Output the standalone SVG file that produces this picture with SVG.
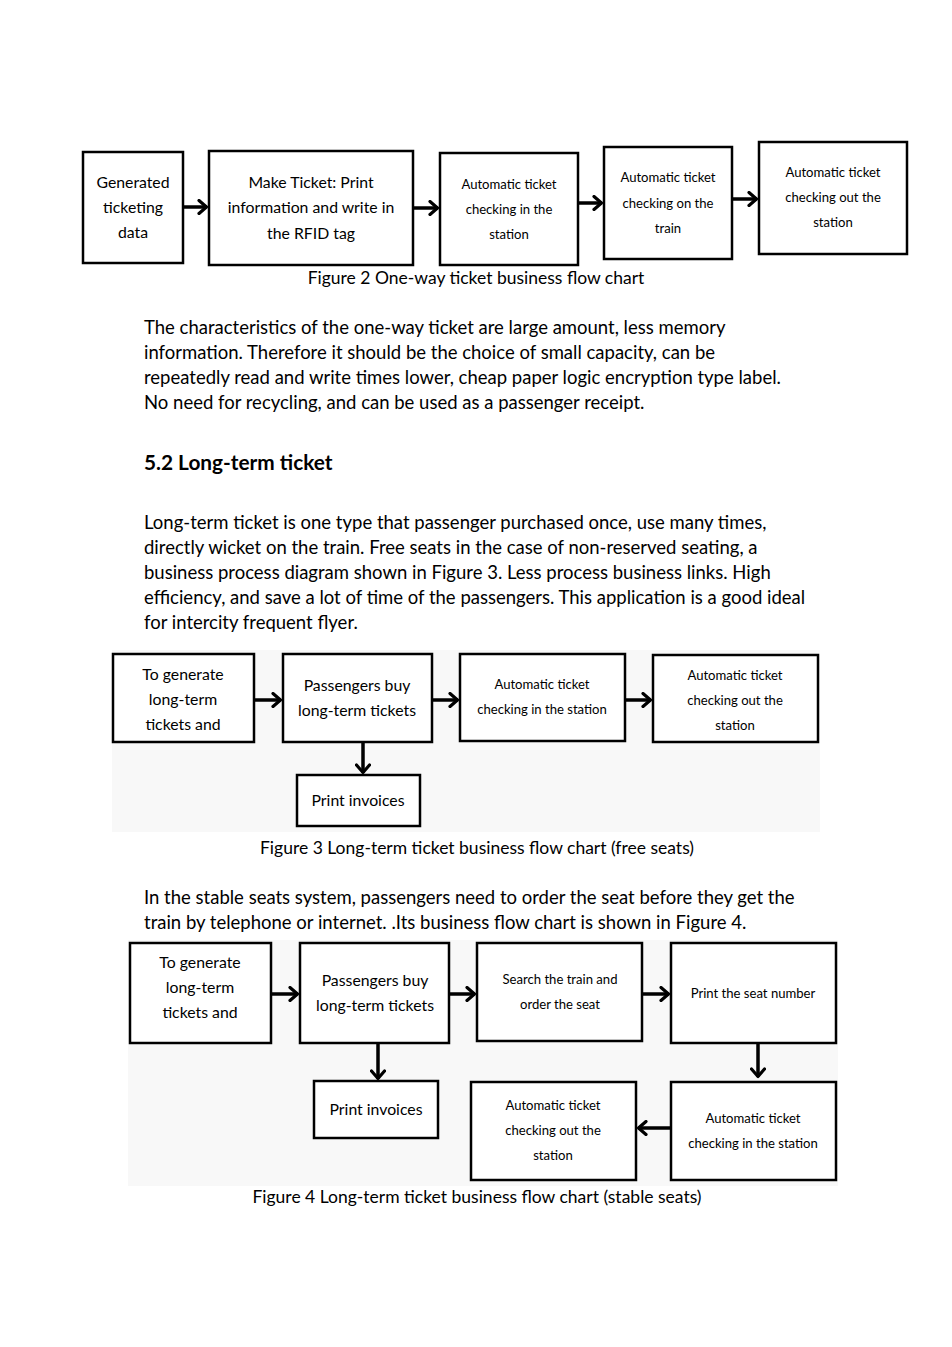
<svg xmlns="http://www.w3.org/2000/svg" width="952" height="1347" viewBox="0 0 952 1347">
<defs>
<marker id="ah" markerWidth="12" markerHeight="16" refX="10" refY="8" orient="auto" markerUnits="userSpaceOnUse">
<polyline points="2,1.5 9.5,8 2,14.5" fill="none" stroke="#000" stroke-width="3.2" stroke-linecap="round" stroke-linejoin="round"/>
</marker>
<style>
.box{fill:#fff;stroke:#000;stroke-width:2.5}
.t{font-family:Lato,"Open Sans",sans-serif;fill:#000;text-anchor:middle}
.m{font-size:15.8px}
.s{font-size:13.1px}
.p{font-family:Lato,"Open Sans",sans-serif;font-size:18.5px;fill:#000}
.h{font-family:Lato,"Open Sans",sans-serif;font-size:20.8px;font-weight:bold;fill:#000}
.c{font-family:Lato,"Open Sans",sans-serif;font-size:17.5px;fill:#000;text-anchor:middle}
.ar{stroke:#000;stroke-width:3.5;fill:none;marker-end:url(#ah)}
</style>
</defs>
<rect width="952" height="1347" fill="#fff"/>
<rect x="112" y="650" width="708" height="182" fill="#f8f8f8"/>
<rect x="128" y="940" width="710" height="246" fill="#f8f8f8"/>

<!-- Figure 2 -->
<g id="f2n1"><rect class="box" x="83" y="152" width="100" height="111"/>
<text class="t m" x="133" y="188">Generated</text><text class="t m" x="133" y="213">ticketing</text><text class="t m" x="133" y="238">data</text></g>
<g id="f2n2"><rect class="box" x="209" y="151" width="204" height="114"/>
<text class="t m" x="311" y="188">Make Ticket: Print</text><text class="t m" x="311" y="213">information and write in</text><text class="t m" x="311" y="239">the RFID tag</text></g>
<g id="f2n3"><rect class="box" x="440" y="153" width="138" height="112"/>
<text class="t s" x="509" y="189">Automatic ticket</text><text class="t s" x="509" y="214">checking in the</text><text class="t s" x="509" y="239">station</text></g>
<g id="f2n4"><rect class="box" x="604" y="147" width="128" height="112"/>
<text class="t s" x="668" y="182">Automatic ticket</text><text class="t s" x="668" y="208">checking on the</text><text class="t s" x="668" y="233">train</text></g>
<g id="f2n5"><rect class="box" x="759" y="142" width="148" height="112"/>
<text class="t s" x="833" y="177">Automatic ticket</text><text class="t s" x="833" y="202">checking out the</text><text class="t s" x="833" y="227">station</text></g>
<text class="c" x="476" y="284">Figure 2 One-way ticket business flow chart</text>

<text class="p" x="144" y="334">The characteristics of the one-way ticket are large amount, less memory</text>
<text class="p" x="144" y="359">information. Therefore it should be the choice of small capacity, can be</text>
<text class="p" x="144" y="384">repeatedly read and write times lower, cheap paper logic encryption type label.</text>
<text class="p" x="144" y="409">No need for recycling, and can be used as a passenger receipt.</text>
<text class="h" x="144" y="470">5.2 Long-term ticket</text>
<text class="p" x="144" y="529">Long-term ticket is one type that passenger purchased once, use many times,</text>
<text class="p" x="144" y="554">directly wicket on the train. Free seats in the case of non-reserved seating, a</text>
<text class="p" x="144" y="579">business process diagram shown in Figure 3. Less process business links. High</text>
<text class="p" x="144" y="604">efficiency, and save a lot of time of the passengers. This application is a good ideal</text>
<text class="p" x="144" y="629">for intercity frequent flyer.</text>

<!-- Figure 3 -->
<g id="f3n1"><rect class="box" x="113" y="654" width="141" height="88"/>
<text class="t m" x="183" y="680">To generate</text><text class="t m" x="183" y="705">long-term</text><text class="t m" x="183" y="730">tickets and</text></g>
<g id="f3n2"><rect class="box" x="283" y="654" width="149" height="88"/>
<text class="t m" x="357" y="691">Passengers buy</text><text class="t m" x="357" y="716">long-term tickets</text></g>
<g id="f3n3"><rect class="box" x="460" y="654" width="165" height="87"/>
<text class="t s" x="542" y="689">Automatic ticket</text><text class="t s" x="542" y="714">checking in the station</text></g>
<g id="f3n4"><rect class="box" x="653" y="655" width="165" height="87"/>
<text class="t s" x="735" y="680">Automatic ticket</text><text class="t s" x="735" y="705">checking out the</text><text class="t s" x="735" y="730">station</text></g>
<g id="f3n5"><rect class="box" x="297" y="775" width="123" height="51"/>
<text class="t m" x="358" y="806">Print invoices</text></g>
<text class="c" x="477" y="854">Figure 3 Long-term ticket business flow chart (free seats)</text>

<text class="p" x="144" y="904">In the stable seats system, passengers need to order the seat before they get the</text>
<text class="p" x="144" y="929">train by telephone or internet. .Its business flow chart is shown in Figure 4.</text>

<!-- Figure 4 -->
<g id="f4n1"><rect class="box" x="130" y="943" width="141" height="100"/>
<text class="t m" x="200" y="968">To generate</text><text class="t m" x="200" y="993">long-term</text><text class="t m" x="200" y="1018">tickets and</text></g>
<g id="f4n2"><rect class="box" x="300" y="943" width="149" height="100"/>
<text class="t m" x="375" y="986">Passengers buy</text><text class="t m" x="375" y="1011">long-term tickets</text></g>
<g id="f4n3"><rect class="box" x="477" y="943" width="165" height="98"/>
<text class="t s" x="560" y="984">Search the train and</text><text class="t s" x="560" y="1009">order the seat</text></g>
<g id="f4n4"><rect class="box" x="671" y="943" width="165" height="100"/>
<text class="t s" x="753" y="998">Print the seat number</text></g>
<g id="f4n5"><rect class="box" x="314" y="1081" width="124" height="57"/>
<text class="t m" x="376" y="1115">Print invoices</text></g>
<g id="f4n6"><rect class="box" x="471" y="1082" width="165" height="98"/>
<text class="t s" x="553" y="1110">Automatic ticket</text><text class="t s" x="553" y="1135">checking out the</text><text class="t s" x="553" y="1160">station</text></g>
<g id="f4n7"><rect class="box" x="671" y="1082" width="165" height="98"/>
<text class="t s" x="753" y="1123">Automatic ticket</text><text class="t s" x="753" y="1148">checking in the station</text></g>
<text class="c" x="477" y="1203">Figure 4 Long-term ticket business flow chart (stable seats)</text>

<g id="connectors">
<line class="ar" x1="184" y1="207" x2="207" y2="207"/>
<line class="ar" x1="414" y1="208" x2="438" y2="208"/>
<line class="ar" x1="579" y1="203" x2="602" y2="203"/>
<line class="ar" x1="733" y1="199" x2="757" y2="199"/>
<line class="ar" x1="255" y1="700" x2="281" y2="700"/>
<line class="ar" x1="433" y1="700" x2="458" y2="700"/>
<line class="ar" x1="626" y1="700" x2="651" y2="700"/>
<line class="ar" x1="363" y1="743" x2="363" y2="773"/>
<line class="ar" x1="272" y1="994" x2="298" y2="994"/>
<line class="ar" x1="450" y1="994" x2="475" y2="994"/>
<line class="ar" x1="643" y1="994" x2="669" y2="994"/>
<line class="ar" x1="378" y1="1044" x2="378" y2="1079"/>
<line class="ar" x1="758" y1="1044" x2="758" y2="1077"/>
<line class="ar" x1="670" y1="1128" x2="638" y2="1128"/>
</g>
</svg>
